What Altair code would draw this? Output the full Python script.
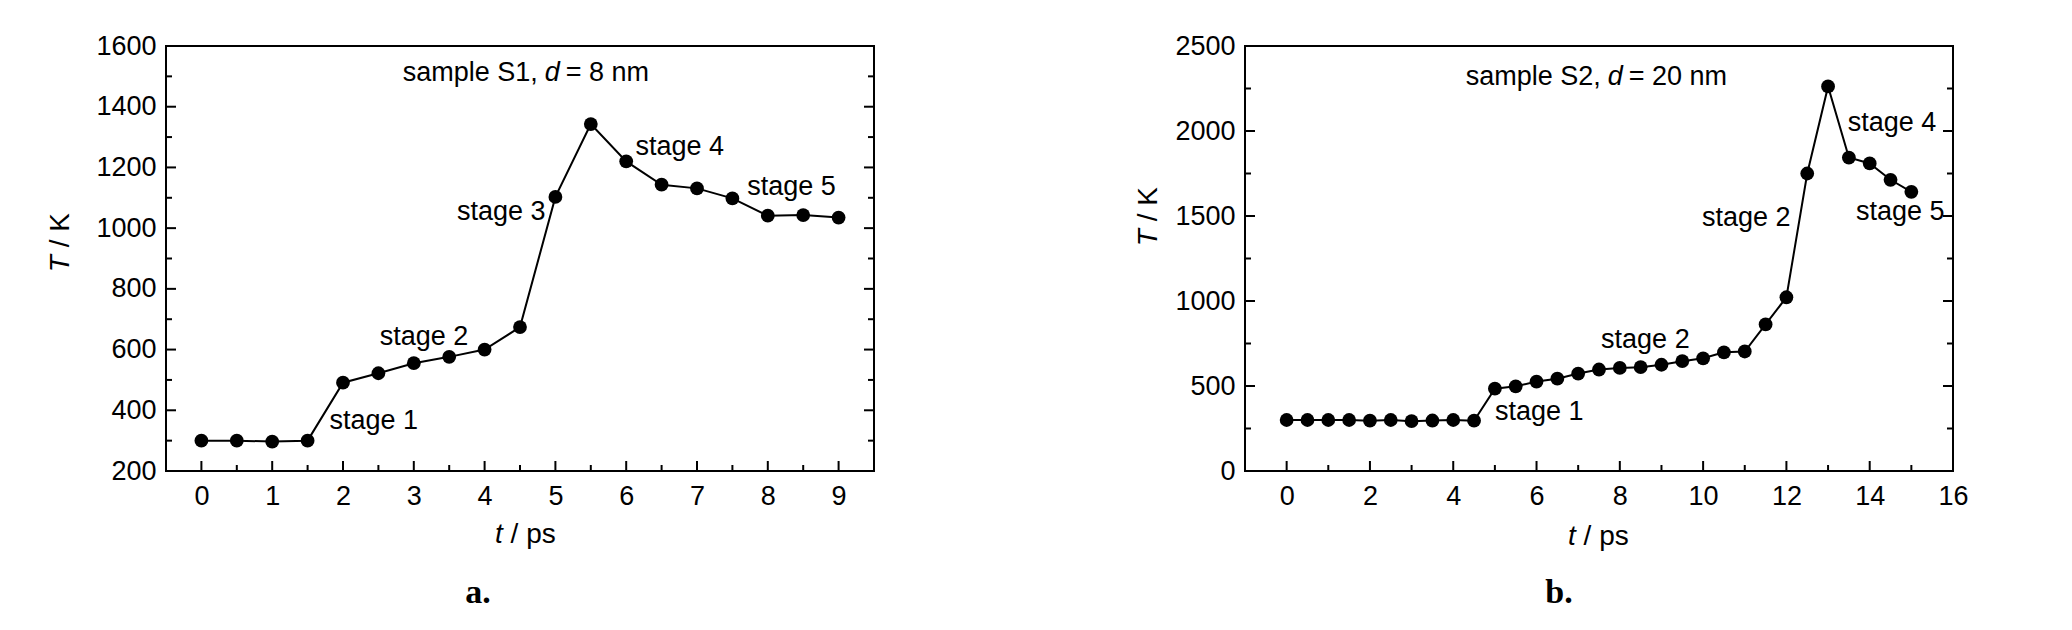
import altair as alt
import pandas as pd

# ---------------- data ----------------
t_a = [0, 0.5, 1, 1.5, 2, 2.5, 3, 3.5, 4, 4.5, 5, 5.5, 6, 6.5, 7, 7.5, 8, 8.5, 9]
T_a = [300, 300, 297, 300, 491, 522, 555, 576, 600, 674, 1103, 1343, 1220, 1143,
       1131, 1098, 1041, 1043, 1035]

t_b = [0, 0.5, 1, 1.5, 2, 2.5, 3, 3.5, 4, 4.5, 5, 5.5, 6, 6.5, 7, 7.5, 8, 8.5, 9,
       9.5, 10, 10.5, 11, 11.5, 12, 12.5, 13, 13.5, 14, 14.5, 15]
T_b = [300, 300, 300, 300, 296, 300, 293, 297, 300, 296, 484, 498, 526, 543, 573,
       597, 606, 611, 625, 646, 663, 698, 703, 862, 1022, 1750, 2262, 1844, 1809,
       1713, 1642]

# axis ticks
xmajor_a = [0, 1, 2, 3, 4, 5, 6, 7, 8, 9]
xminor_a = [0.5, 1.5, 2.5, 3.5, 4.5, 5.5, 6.5, 7.5, 8.5]
ymajor_a = [200, 400, 600, 800, 1000, 1200, 1400, 1600]
yminor_a = [300, 500, 700, 900, 1100, 1300, 1500]

xmajor_b = [0, 2, 4, 6, 8, 10, 12, 14, 16]
xminor_b = [1, 3, 5, 7, 9, 11, 13, 15]
ymajor_b = [0, 500, 1000, 1500, 2000, 2500]
yminor_b = [250, 750, 1250, 1750, 2250]

# stage labels: (text, t, T)
left_labels_a = [("stage 1", 1.81, 339), ("stage 2", 2.52, 615),
                 ("stage 4", 6.13, 1242), ("stage 5", 7.71, 1110)]
right_labels_a = [("stage 3", 4.86, 1028)]
left_labels_b = [("stage 1", 5.0, 302), ("stage 2", 7.55, 722),
                 ("stage 4", 13.47, 2002), ("stage 5", 13.67, 1478)]
right_labels_b = [("stage 2", 12.1, 1443)]

# sample annotations: (before, italic, after, t, T)
ann_a = ("sample S1,", "d", "= 8 nm", 4.85, 1486)
ann_b = ("sample S2,", "d", "= 20 nm", 7.71, 2272)

FONT = "Liberation Sans, Arial, sans-serif"
FONT_SERIF = "Liberation Serif, Times New Roman, serif"
W, H = 708, 425
ONE = pd.DataFrame({"a": [0]})


def panel(t, T, xdom, xmaj, xmin, ydom, ymaj, ymin, lab_l, lab_r, ann,
          ytitle, xtitle, caption):
    xs = alt.Scale(domain=xdom, nice=False, zero=False)
    ys = alt.Scale(domain=ydom, nice=False, zero=False)
    xaxis = alt.Axis(values=xmaj, format="d", title=None, labelPadding=12)
    yaxis = alt.Axis(values=ymaj, format="d", title=None, labelPadding=10)

    def X(f):
        return alt.X(f + ":Q", scale=xs, axis=xaxis)

    def Y(f):
        return alt.Y(f + ":Q", scale=ys, axis=yaxis)

    df = pd.DataFrame({"t": t, "T": T})

    line = alt.Chart(df).mark_line(color="black", strokeWidth=2).encode(
        x=X("t"), y=Y("T"))
    pts = alt.Chart(df).mark_circle(color="black", size=190, opacity=1).encode(
        x=X("t"), y=Y("T"))

    layers = [line, pts]

    def rules_y(vals, x0, x1):
        d = pd.DataFrame({"v": vals})
        return alt.Chart(d).mark_rule(color="black", strokeWidth=2).encode(
            y=Y("v"), x=alt.value(x0), x2=alt.value(x1))

    def rules_x(vals, L):
        d = pd.DataFrame({"v": vals})
        return alt.Chart(d).mark_rule(color="black", strokeWidth=2).encode(
            x=X("v"), y=alt.value(H), y2=alt.value(H - L))

    layers += [rules_y(ymaj, 0, 10), rules_y(ymin, 0, 6),
               rules_y(ymaj, W, W - 10), rules_y(ymin, W, W - 6),
               rules_x(xmaj, 10), rules_x(xmin, 6)]

    for labs, al in ((lab_l, "left"), (lab_r, "right")):
        d = pd.DataFrame({"label": [l[0] for l in labs],
                          "x": [l[1] for l in labs],
                          "y": [l[2] for l in labs]})
        layers.append(alt.Chart(d).mark_text(
            align=al, baseline="alphabetic", font=FONT, fontSize=27,
            color="black").encode(x=X("x"), y=Y("y"), text="label:N"))

    before, ital, after, ax, ay = ann
    d = pd.DataFrame({"x": [ax], "y": [ay]})
    layers.append(alt.Chart(d).mark_text(
        text=before, align="right", baseline="alphabetic", font=FONT,
        fontSize=27, dx=-7, color="black").encode(x=X("x"), y=Y("y")))
    layers.append(alt.Chart(d).mark_text(
        text=ital, align="left", baseline="alphabetic", font=FONT,
        fontSize=27, fontStyle="italic", color="black").encode(x=X("x"), y=Y("y")))
    layers.append(alt.Chart(d).mark_text(
        text=after, align="left", baseline="alphabetic", font=FONT,
        fontSize=27, dx=21, color="black").encode(x=X("x"), y=Y("y")))

    # y title (rotated): italic T + " / K"
    yx, yT, yK = ytitle
    layers.append(alt.Chart(ONE).mark_text(
        text="T", angle=270, align="right", baseline="alphabetic", font=FONT,
        fontSize=28, fontStyle="italic", color="black").encode(
        x=alt.value(yx), y=alt.value(yT)))
    layers.append(alt.Chart(ONE).mark_text(
        text="/ K", angle=270, align="left", baseline="alphabetic", font=FONT,
        fontSize=28, color="black").encode(x=alt.value(yx), y=alt.value(yK)))

    # x title: italic t + " / ps"
    xt, xp, xy = xtitle
    layers.append(alt.Chart(ONE).mark_text(
        text="t", align="right", baseline="alphabetic", font=FONT,
        fontSize=28, fontStyle="italic", color="black").encode(
        x=alt.value(xt), y=alt.value(xy)))
    layers.append(alt.Chart(ONE).mark_text(
        text="/ ps", align="left", baseline="alphabetic", font=FONT,
        fontSize=28, color="black").encode(x=alt.value(xp), y=alt.value(xy)))

    ctext, cx, cy = caption
    layers.append(alt.Chart(ONE).mark_text(
        text=ctext, align="center", baseline="alphabetic", font=FONT_SERIF,
        fontSize=34, fontWeight="bold", color="black").encode(
        x=alt.value(cx), y=alt.value(cy)))

    return alt.layer(*layers).properties(width=W, height=H)


pa = panel(t_a, T_a, [-0.5, 9.5], xmajor_a, xminor_a, [200, 1600], ymajor_a,
           yminor_a, left_labels_a, right_labels_a, ann_a,
           (-97.4, 209.1, 201.3), (336.8, 344.6, 497), ("a.", 312, 557))
pb = panel(t_b, T_b, [-1, 16], xmajor_b, xminor_b, [0, 2500], ymajor_b,
           yminor_b, left_labels_b, right_labels_b, ann_b,
           (-87.7, 183.1, 175.3), (330.8, 338.6, 499), ("b.", 314, 557))

chart = alt.hconcat(pa, pb, spacing=371, bounds="flush").properties(
    padding={"left": 37, "top": 23, "right": 5, "bottom": 5}
).configure_view(stroke="black", strokeWidth=2).configure_axis(
    domain=False, ticks=False, tickSize=0, grid=False, labelFont=FONT,
    labelFontSize=27, labelColor="black", labelFlush=False, labelOverlap=False
)

chart.save("out.html", embed_options={"renderer": "svg", "actions": False})
